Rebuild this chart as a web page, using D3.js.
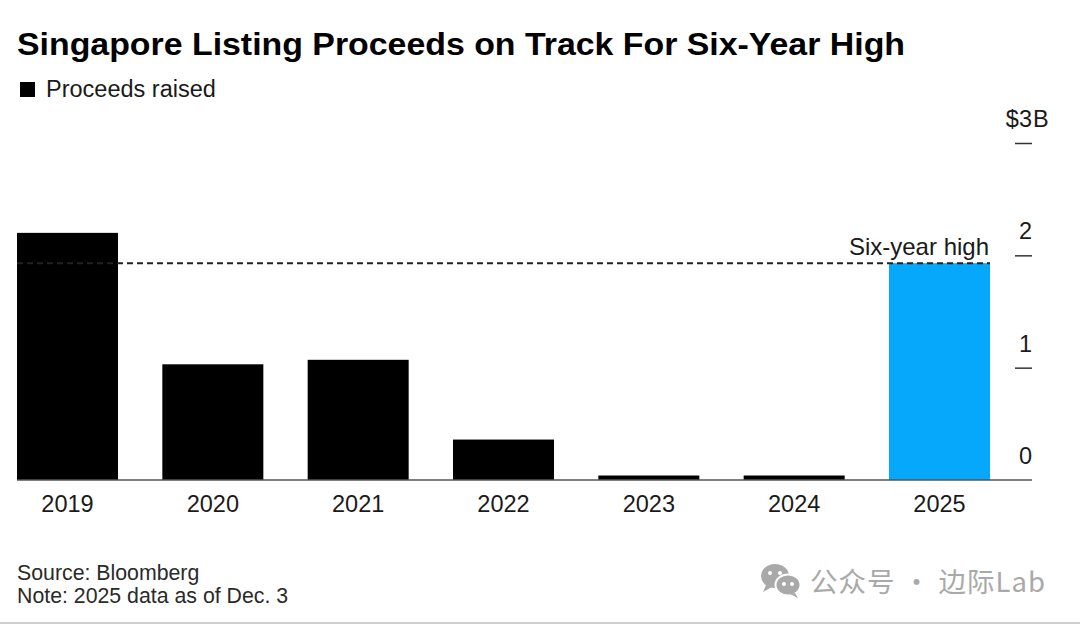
<!DOCTYPE html>
<html>
<head>
<meta charset="utf-8">
<script src="https://cdn.jsdelivr.net/npm/d3@7"></script>
<style>
  html, body { margin: 0; padding: 0; background: #fff; }
  svg { display: block; }
  text { font-family: "Liberation Sans", Arial, Helvetica, sans-serif; }
</style>
</head>
<body>
<svg id="chart" width="1080" height="625"></svg>
<script>
// ---- data ----
const years = ["2019", "2020", "2021", "2022", "2023", "2024", "2025"];
const proceeds = [2.2, 1.03, 1.07, 0.36, 0.04, 0.04, 1.93];   // $ billions
const highlightYear = "2025";
const sixYearHigh = 1.93;
const yTicks = [0, 1, 2, 3];
const yTickLabels = ["0", "1", "2", "$3"];

const title = "Singapore Listing Proceeds on Track For Six-Year High";
const legendLabel = "Proceeds raised";
const sourceLines = ["Source: Bloomberg", "Note: 2025 data as of Dec. 3"];
const watermark = "公众号 · 边际Lab";

// ---- layout ----
const svg = d3.select("#chart");
const W = 1080, H = 625;
const BLACK = "#000000", BLUE = "#05A8FA";

const x = d3.scaleBand().domain(years).range([17, 990]).paddingInner(0.305).paddingOuter(0);
const y = d3.scaleLinear().domain([0, 3]).range([480, 143]);

// title
svg.append("text").attr("x", 17).attr("y", 55)
  .attr("font-size", 31.5).attr("font-weight", "bold").attr("fill", "#000")
  .attr("textLength", 888).attr("lengthAdjust", "spacingAndGlyphs")
  .text(title);

// legend
svg.append("rect").attr("x", 20).attr("y", 82).attr("width", 15).attr("height", 15).attr("fill", BLACK);
svg.append("text").attr("x", 46).attr("y", 97).attr("font-size", 23.5).attr("fill", "#1a1a1a").text(legendLabel);

// bars
svg.append("g").selectAll("rect").data(years).join("rect")
  .attr("x", d => x(d))
  .attr("width", x.bandwidth())
  .attr("y", (d, i) => y(proceeds[i]))
  .attr("height", (d, i) => y(0) - y(proceeds[i]))
  .attr("fill", d => d === highlightYear ? BLUE : BLACK);

// baseline
svg.append("line").attr("x1", 17).attr("x2", 1032).attr("y1", y(0)).attr("y2", y(0))
  .attr("stroke", "#555").attr("stroke-width", 1.5);

// six-year high dashed line
svg.append("line").attr("x1", 17).attr("x2", 990).attr("y1", y(sixYearHigh)).attr("y2", y(sixYearHigh))
  .attr("stroke", "#222").attr("stroke-width", 2).attr("stroke-dasharray", "6,4");
svg.append("text").attr("x", 989).attr("y", y(sixYearHigh) - 8).attr("text-anchor", "end")
  .attr("font-size", 24).attr("fill", "#1a1a1a").text("Six-year high");

// right y axis
const yAxis = d3.axisRight(y).tickValues(yTicks).tickSize(17).tickFormat("");
const ga = svg.append("g").attr("transform", "translate(1015,0)").call(yAxis);
ga.select(".domain").remove();
ga.selectAll(".tick line").attr("stroke", "#333").attr("stroke-width", 1.5)
  .filter(d => d === 0).remove();
const labs = svg.append("g");
yTicks.forEach((t, i) => {
  labs.append("text").attr("x", 1032).attr("y", y(t) - 16).attr("text-anchor", "end")
    .attr("font-size", 23.5).attr("fill", "#1a1a1a").text(yTickLabels[i]);
});
labs.append("text").attr("x", 1033).attr("y", y(3) - 16).attr("font-size", 23.5).attr("fill", "#1a1a1a").text("B");

// x axis labels
const xAxis = d3.axisBottom(x).tickSize(0).tickPadding(0);
const gx = svg.append("g").attr("transform", `translate(0,${y(0)})`).call(xAxis);
gx.select(".domain").remove();
gx.selectAll(".tick text").attr("y", 32).attr("dy", 0)
  .attr("font-size", 23.5).attr("fill", "#1a1a1a")
  .style("font-family", "'Liberation Sans', Arial, sans-serif");

// source / note
sourceLines.forEach((s, i) => {
  svg.append("text").attr("x", 17).attr("y", 580 + i * 23).attr("font-size", 21.3).attr("fill", "#2a2a2a").text(s);
});

// watermark
const wm = svg.append("g").attr("fill", "#a9a9a9");
wm.append("ellipse").attr("cx", 775).attr("cy", 576).attr("rx", 14).attr("ry", 12);
wm.append("path").attr("d", "M766,585 L763,592 L772,587 Z");
wm.append("ellipse").attr("cx", 788).attr("cy", 585).attr("rx", 12.5).attr("ry", 10.5).attr("stroke", "#fff").attr("stroke-width", 2);
wm.append("path").attr("d", "M795,593 L798,598 L790,594 Z");
[[770, 573], [780, 573], [784, 584], [792, 584]].forEach(p => {
  svg.append("circle").attr("cx", p[0]).attr("cy", p[1]).attr("r", 2).attr("fill", "#fff");
});
svg.append("text").attr("x", 810).attr("y", 592).attr("font-size", 27.5)
  .attr("fill", "#a9a9a9").style("font-family", "'Noto Sans CJK SC', sans-serif")
  .attr("textLength", 235).attr("lengthAdjust", "spacing").text(watermark);

// bottom rule
svg.append("line").attr("x1", 0).attr("x2", W).attr("y1", 623).attr("y2", 623).attr("stroke", "#cfcfcf").attr("stroke-width", 2);
</script>
</body>
</html>
